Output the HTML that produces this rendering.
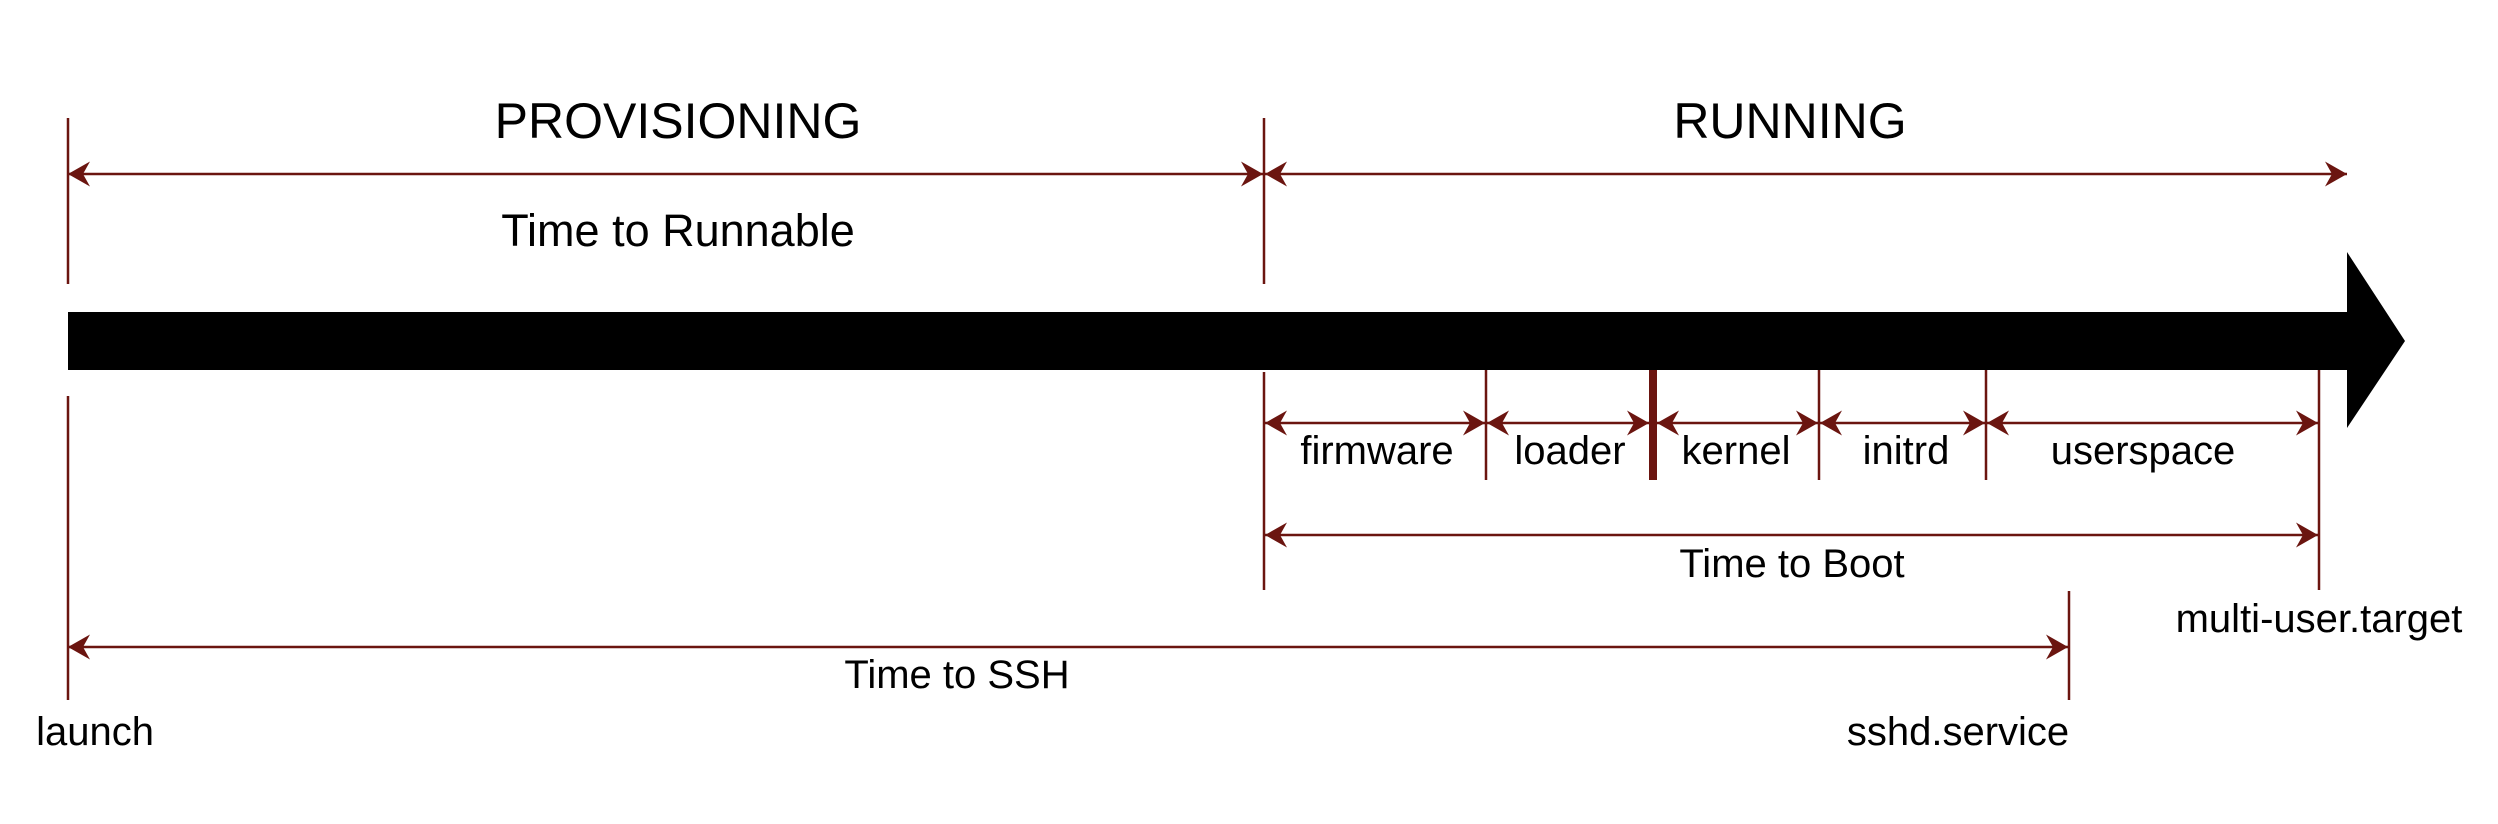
<!DOCTYPE html>
<html><head><meta charset="utf-8"><style>
html,body{margin:0;padding:0;background:#fff;}
svg{display:block;}
text{font-family:"Liberation Sans",Arial,sans-serif;fill:#000;}
</style></head><body>
<svg width="2498" height="824" viewBox="0 0 2498 824" xmlns="http://www.w3.org/2000/svg">
<defs>
<marker id="a" markerUnits="userSpaceOnUse" markerWidth="30" markerHeight="30" refX="22" refY="13" orient="auto-start-reverse" viewBox="0 0 30 30">
<path d="M22 13 L0 0.5 L7 13 L0 25.5 Z" fill="#6b1510"/>
</marker>
</defs>
<g stroke="#6b1510" stroke-width="2.5" fill="none">
<!-- vertical ticks -->
<line x1="68" y1="118" x2="68" y2="284"/>
<line x1="68" y1="396" x2="68" y2="700"/>
<line x1="1264" y1="118" x2="1264" y2="284"/>
<line x1="1264" y1="372" x2="1264" y2="590"/>
<line x1="1486" y1="370" x2="1486" y2="480"/>
<line x1="1819" y1="370" x2="1819" y2="480"/>
<line x1="1986" y1="370" x2="1986" y2="480"/>
<line x1="2319" y1="370" x2="2319" y2="590"/>
<line x1="2069" y1="591" x2="2069" y2="700"/>
<!-- arrows -->
<line x1="68" y1="174" x2="1263" y2="174" marker-start="url(#a)" marker-end="url(#a)"/>
<line x1="1265" y1="174" x2="2347" y2="174" marker-start="url(#a)" marker-end="url(#a)"/>
<line x1="1265" y1="423" x2="1485" y2="423" marker-start="url(#a)" marker-end="url(#a)"/>
<line x1="1487" y1="423" x2="1649" y2="423" marker-start="url(#a)" marker-end="url(#a)"/>
<line x1="1657" y1="423" x2="1818" y2="423" marker-start="url(#a)" marker-end="url(#a)"/>
<line x1="1820" y1="423" x2="1985" y2="423" marker-start="url(#a)" marker-end="url(#a)"/>
<line x1="1987" y1="423" x2="2318" y2="423" marker-start="url(#a)" marker-end="url(#a)"/>
<line x1="1265" y1="535" x2="2318" y2="535" marker-start="url(#a)" marker-end="url(#a)"/>
<line x1="68" y1="647" x2="2068" y2="647" marker-start="url(#a)" marker-end="url(#a)"/>
</g>
<line x1="1653" y1="370" x2="1653" y2="480" stroke="#6b1510" stroke-width="8"/>
<!-- big bar -->
<path d="M68 312 L2347 312 L2347 252 L2405 341 L2347 428 L2347 370 L68 370 Z" fill="#000"/>
<!-- labels -->
<text x="678" y="138" font-size="50" text-anchor="middle">PROVISIONING</text>
<text x="1790" y="138" font-size="50" text-anchor="middle">RUNNING</text>
<text x="678" y="246" font-size="45" text-anchor="middle">Time to Runnable</text>
<text x="1377" y="464" font-size="40" text-anchor="middle">firmware</text>
<text x="1570" y="464" font-size="40" text-anchor="middle">loader</text>
<text x="1736" y="464" font-size="40" text-anchor="middle">kernel</text>
<text x="1906" y="464" font-size="40" text-anchor="middle">initrd</text>
<text x="2143" y="464" font-size="40" text-anchor="middle">userspace</text>
<text x="1792" y="577" font-size="40" text-anchor="middle">Time to Boot</text>
<text x="957" y="688" font-size="40" text-anchor="middle">Time to SSH</text>
<text x="95" y="745" font-size="40" text-anchor="middle">launch</text>
<text x="1958" y="745" font-size="40" text-anchor="middle">sshd.service</text>
<text x="2319" y="632" font-size="40" text-anchor="middle">multi-user.target</text>
</svg>
</body></html>
